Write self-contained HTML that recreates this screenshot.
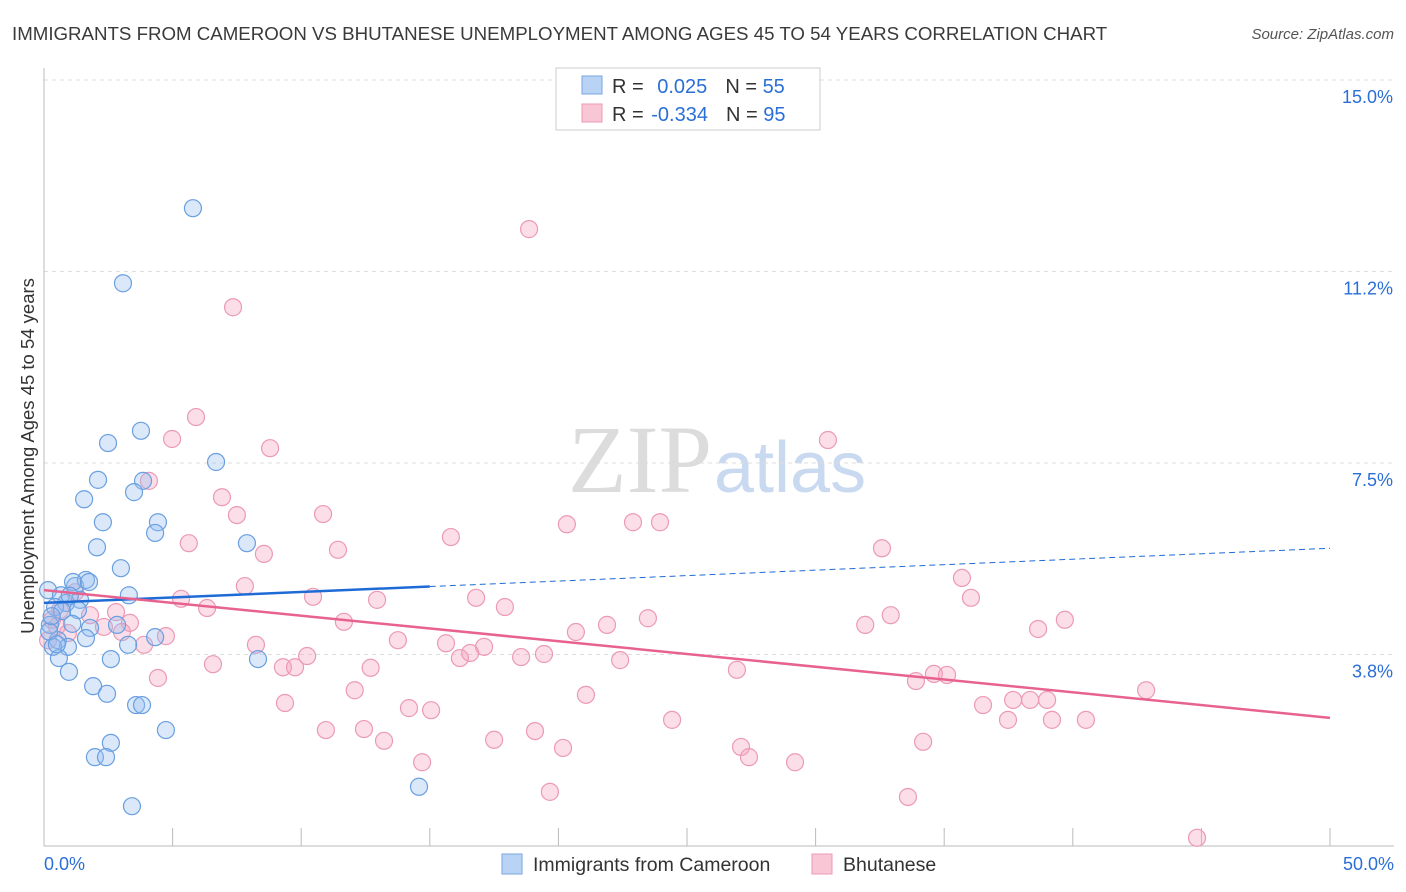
<!DOCTYPE html>
<html><head><meta charset="utf-8"><style>
body{margin:0;background:#fff;font-family:"Liberation Sans",sans-serif;}
svg{display:block}
</style></head><body>
<svg id="c" width="1406" height="892">
<text x="12" y="40" font-size="18.7" fill="#3a3a3a">IMMIGRANTS FROM CAMEROON VS BHUTANESE UNEMPLOYMENT AMONG AGES 45 TO 54 YEARS CORRELATION CHART</text>
<text x="1394" y="39" font-size="15" font-style="italic" fill="#555" text-anchor="end">Source: ZipAtlas.com</text>
<text x="712" y="492" font-size="96" font-family="Liberation Serif,serif" fill="#dcdcdc" text-anchor="end">ZIP</text>
<text x="714" y="492" font-size="72" fill="#c8d9f0">atlas</text>
<text transform="translate(34,456) rotate(-90)" font-size="18.5" fill="#333" text-anchor="middle">Unemployment Among Ages 45 to 54 years</text>
<g id="grid"></g><g id="pts"></g><g id="trend"></g>
<g>
<rect x="556" y="68" width="264" height="62" fill="#fff" stroke="#ccc"/>
<rect x="582" y="76" width="20" height="18" fill="#b9d3f5" stroke="#7aa6e0"/>
<rect x="582" y="104" width="20" height="18" fill="#f9c6d6" stroke="#ec9ab4"/>
<text x="612" y="93" font-size="20" fill="#333">R = <tspan fill="#2a6fd6" dx="8">0.025</tspan><tspan dx="18" fill="#333">N = </tspan><tspan fill="#2a6fd6">55</tspan></text>
<text x="612" y="121" font-size="20" fill="#333">R = <tspan fill="#2a6fd6" dx="2">-0.334</tspan><tspan dx="18" fill="#333">N = </tspan><tspan fill="#2a6fd6">95</tspan></text>
</g>
<g>
<rect x="502" y="854" width="20" height="20" fill="#b9d3f5" stroke="#7aa6e0"/>
<text x="533" y="871" font-size="19.5" fill="#333">Immigrants from Cameroon</text>
<rect x="812" y="854" width="20" height="20" fill="#f9c6d6" stroke="#ec9ab4"/>
<text x="843" y="871" font-size="19.5" fill="#333">Bhutanese</text>
</g>
</svg>
<script>
const yTicks=[3.75,7.5,11.25,15];
const yTickLabels=["3.8%","7.5%","11.2%","15.0%"];
const xTickLabels=["0.0%","50.0%"];
const blueX=[5.79,3.07,2.49,3.77,6.69,2.10,3.85,3.50,1.56,2.29,4.43,4.32,2.06,7.89,2.99,0.16,1.21,1.63,1.13,1.75,3.30,0.66,1.40,0.86,0.43,1.32,0.23,1.79,2.84,4.32,1.63,0.54,0.93,0.35,3.27,0.58,2.60,8.32,0.97,1.91,2.45,3.58,3.81,4.74,2.60,1.98,2.41,3.42,14.58,0.2,0.7,1.0,0.3,0.5,1.1];
const blueY=[12.49,11.02,7.89,8.13,7.52,7.17,7.15,6.93,6.79,6.34,6.34,6.13,5.85,5.93,5.44,5.01,5.09,5.21,5.17,5.17,4.91,4.91,4.82,4.76,4.68,4.62,4.33,4.27,4.33,4.09,4.07,4.03,3.90,3.90,3.94,3.68,3.66,3.66,3.41,3.13,2.98,2.76,2.76,2.27,2.02,1.74,1.74,0.78,1.16,4.2,4.6,4.9,4.5,3.95,4.35];
const pinkX=[18.86,7.35,5.91,4.98,8.79,30.48,4.08,6.92,7.50,10.85,5.63,8.55,11.43,15.82,20.33,22.90,23.95,32.58,7.81,5.33,6.34,10.46,12.95,16.80,17.92,35.69,36.04,32.92,31.93,39.69,38.65,23.48,21.89,20.68,11.66,13.76,15.63,17.11,16.57,16.17,18.55,19.44,22.40,8.24,10.23,9.29,9.76,6.57,12.70,4.43,26.94,34.60,35.11,33.90,12.08,21.07,42.85,37.68,38.34,39.00,36.51,9.37,14.19,15.05,24.42,37.48,39.19,40.51,10.96,12.44,13.22,17.50,19.09,20.18,27.10,27.41,34.18,29.20,14.70,19.67,33.59,44.83,1.79,2.80,3.34,4.74,3.89,3.03,2.33,0.93,0.31,0.62,1.21,0.16,0.5];
const pinkY=[12.08,10.55,8.40,7.97,7.79,7.95,7.15,6.83,6.48,6.50,5.93,5.72,5.80,6.05,6.30,6.34,6.34,5.83,5.09,4.84,4.66,4.88,4.82,4.86,4.68,5.25,4.86,4.52,4.33,4.43,4.25,4.46,4.33,4.19,4.39,4.03,3.97,3.90,3.78,3.68,3.70,3.76,3.64,3.94,3.72,3.50,3.50,3.56,3.49,3.29,3.45,3.37,3.35,3.23,3.05,2.96,3.05,2.86,2.86,2.86,2.76,2.80,2.70,2.66,2.47,2.47,2.47,2.47,2.27,2.29,2.06,2.08,2.25,1.92,1.94,1.74,2.04,1.64,1.64,1.06,0.96,0.16,4.52,4.58,4.37,4.11,3.94,4.19,4.29,4.17,4.43,4.62,4.97,4.03,4.3];
const blueTrend=[4.76,5.83]; // y at x=0 and x=50
const pinkTrend=[5.01,2.51];
const X=v=>44+v/50*1286, Y=v=>846-v/15*766;
const NS="http://www.w3.org/2000/svg";
function mk(tag,attrs,parent){const e=document.createElementNS(NS,tag);for(const k in attrs)e.setAttribute(k,attrs[k]);parent.appendChild(e);return e;}
const grid=document.getElementById('grid');
yTicks.forEach((t,i)=>{
 const l=mk('line',{x1:44,x2:1394,y1:Y(t),y2:Y(t),stroke:'#ddd','stroke-dasharray':'4,4'},grid);
 
 
 const tx=mk('text',{x:1393,y:Y(t)+23,'font-size':18,fill:'#2a6fd6','text-anchor':'end'},grid);
 tx.textContent=yTickLabels[i];
 
 
});
const ax=mk('line',{x1:44,x2:44,y1:68,y2:846,stroke:'#bbb'},grid);


const bx=mk('line',{x1:44,x2:1394,y1:846,y2:846,stroke:'#bbb'},grid);


for(let i=0;i<=10;i++){const t=mk('line',{x1:X(i*5),x2:X(i*5),y1:828,y2:846,stroke:'#bbb'},grid);
 
 }
[[0,44,'start'],[1,1394,'end']].forEach(([i,x,a])=>{const t=mk('text',{x:x,y:870,'font-size':18,fill:'#2a6fd6','text-anchor':a},grid);t.textContent=xTickLabels[i];
 
 });
const pts=document.getElementById('pts');
pinkX.forEach((x,i)=>{const c=mk('circle',{cx:X(x),cy:Y(pinkY[i]),r:8.5,fill:'rgba(244,160,188,0.35)',stroke:'#ec9ab4','stroke-width':1.2},pts);
 
 });
blueX.forEach((x,i)=>{const c=mk('circle',{cx:X(x),cy:Y(blueY[i]),r:8.5,fill:'rgba(150,190,240,0.35)',stroke:'#6a9fe0','stroke-width':1.2},pts);
 
 });
const tr=document.getElementById('trend');
const bAt=x=>blueTrend[0]+(blueTrend[1]-blueTrend[0])*x/50;
const l1=mk('line',{x1:X(0),y1:Y(bAt(0)),x2:X(15),y2:Y(bAt(15)),stroke:'#1f6bd6','stroke-width':2.5},tr);


const l2=mk('line',{x1:X(15),y1:Y(bAt(15)),x2:X(50),y2:Y(bAt(50)),stroke:'#1f6bd6','stroke-width':1,'stroke-dasharray':'6,4'},tr);


const l3=mk('line',{x1:X(0),y1:Y(pinkTrend[0]),x2:X(50),y2:Y(pinkTrend[1]),stroke:'#e8628f','stroke-width':2.5},tr);


</script>
</body></html>
